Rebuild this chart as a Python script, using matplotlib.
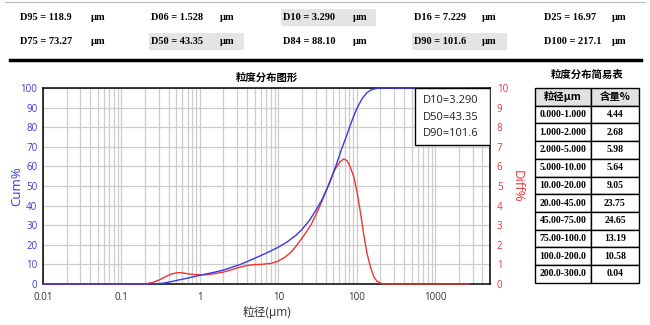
import numpy as np
import matplotlib
matplotlib.use("Agg")
import matplotlib.pyplot as plt
from matplotlib.patches import Rectangle
from matplotlib.ticker import LogLocator, FixedLocator

plt.rcParams['font.family'] = ['Open Sans', 'Noto Sans CJK SC', 'DejaVu Sans']

# summary percentiles shown in the header
d_names = ["D95", "D06", "D10", "D16", "D25", "D75", "D50", "D84", "D90", "D100"]
d_values = ["118.9", "1.528", "3.290", "7.229", "16.97", "73.27", "43.35", "88.10", "101.6", "217.1"]
d_marked = ["D10", "D50", "D90"]

# cumulative distribution (Cum%)
cum_x = [0.01, 0.28, 0.35, 0.42, 0.53, 0.7, 1.0, 1.528, 2.0, 3.29, 5.0, 7.229, 10.0, 13.0,
         16.97, 20.0, 25.0, 30.0, 36.0, 43.35, 45.0, 55.0, 65.0, 73.27, 75.0, 88.1, 100.0,
         101.6, 118.9, 135.0, 150.0, 175.0, 200.0, 217.1, 2700.0]
cum_y = [0, 0, 0.5, 1.1, 2.0, 3.0, 4.44, 6.0, 7.12, 10.0, 13.1, 16.0, 18.74, 21.5,
         25.0, 27.79, 32.5, 37.5, 43.0, 50.0, 51.54, 61.0, 69.5, 75.0, 76.19, 84.0, 89.38,
         90.0, 95.0, 97.6, 98.9, 99.7, 99.96, 100.0, 100.0]

# differential distribution (Diff%)
diff_x = [0.01, 0.2, 0.25, 0.3, 0.35, 0.4, 0.45, 0.53, 0.6, 0.7, 0.85, 1.0, 1.2, 1.5, 2.0,
          2.5, 3.0, 4.0, 5.0, 6.0, 8.0, 9.7, 12.0, 14.3, 17.0, 21.0, 26.0, 32.0, 38.0, 45.0,
          52.0, 60.0, 68.0, 75.0, 82.0, 92.0, 102.0, 112.0, 123.0, 135.0, 150.0, 165.0,
          180.0, 200.0, 222.0, 2700.0]
diff_y = [0, 0, 0.08, 0.2, 0.33, 0.45, 0.53, 0.58, 0.57, 0.52, 0.48, 0.47, 0.47, 0.52, 0.61,
          0.72, 0.82, 0.95, 0.99, 1.0, 1.05, 1.15, 1.35, 1.6, 1.95, 2.45, 3.0, 3.75, 4.45, 5.2,
          5.8, 6.2, 6.38, 6.3, 6.0, 5.45, 4.6, 3.6, 2.5, 1.57, 0.85, 0.37,
          0.15, 0.05, 0, 0]

# simple table: size range vs content
tbl_ranges = ["0.000-1.000", "1.000-2.000", "2.000-5.000", "5.000-10.00", "10.00-20.00",
              "20.00-45.00", "45.00-75.00", "75.00-100.0", "100.0-200.0", "200.0-300.0"]
tbl_content = ["4.44", "2.68", "5.98", "5.64", "9.05", "23.75", "24.65", "13.19", "10.58", "0.04"]

BLUE = "#3a3ae0"
RED = "#ee3535"
serif_bold = dict(family=["Liberation Serif", "Noto Sans CJK SC"], weight="bold", size=7.5)

fig = plt.figure(figsize=(6.5, 3.25), dpi=100)
W, H = 650.0, 325.0

def fx(px):
    return px / W

def fy(py):
    return 1 - py / H

# header with percentile values
fig.add_artist(plt.Line2D([fx(5), fx(645)], [fy(1.5), fy(1.5)], color="#bbbbbb", lw=0.8))
col_x = [20, 151, 283, 414, 544]
unit_x = [91, 220, 353, 482, 612]
row_y = [17, 41]
for i, (nm, val) in enumerate(zip(d_names, d_values)):
    r, c = divmod(i, 5)
    if nm in d_marked:
        fig.add_artist(Rectangle((fx(col_x[c] - 2), fy(row_y[r] + 8.5)), fx(95), 17 / H,
                                 facecolor="#e4e4e4", edgecolor="none"))
    fig.text(fx(col_x[c]), fy(row_y[r]), f"{nm} = {val}", ha="left", va="center", **serif_bold)
    fig.text(fx(unit_x[c]), fy(row_y[r]), "μm", ha="left", va="center", **serif_bold)
fig.add_artist(plt.Line2D([fx(10), fx(641)], [fy(60), fy(60)], color="black", lw=2.5))

# main chart
ax = fig.add_axes([fx(43), fy(284), fx(490) - fx(43), (284 - 88) / H])
ax.set_xscale("log")
ax.set_xlim(0.01, 5000)
ax.set_ylim(0, 100)
ax.set_yticks(np.arange(0, 101, 10))
ax.xaxis.set_major_locator(FixedLocator([0.01, 0.1, 1, 10, 100, 1000]))
ax.xaxis.set_minor_locator(LogLocator(base=10, subs=np.arange(2, 10), numticks=20))
ax.set_xticklabels(["0.01", "0.1", "1", "10", "100", "1000"])
ax.grid(True, which="both", axis="x", color="#cccccc", lw=0.9)
ax.grid(True, which="major", axis="y", color="#cccccc", lw=0.9)
ax.set_axisbelow(True)
ax.tick_params(axis="both", which="both", length=0)
ax.tick_params(axis="x", labelsize=7, colors="#333333", pad=6)
ax.tick_params(axis="y", labelsize=7, colors=BLUE, pad=4)
for s in ax.spines.values():
    s.set_color("black")
    s.set_linewidth(1.1)

ax2 = ax.twinx()
ax2.set_ylim(0, 10)
ax2.set_yticks(np.arange(0, 11, 1))
ax2.tick_params(axis="y", length=0, labelsize=7, colors=RED, pad=5)
ax2.plot(diff_x, diff_y, color=RED, lw=1.0, clip_on=False)
ax2.set_zorder(ax.get_zorder() + 1)
ax2.patch.set_visible(False)
for s in ax2.spines.values():
    s.set_visible(False)

# blue curve on top of the red one
ax3 = ax.twinx()
ax3.set_ylim(0, 100)
ax3.set_yticks([])
ax3.plot(cum_x, cum_y, color=BLUE, lw=1.0, clip_on=False)
ax3.set_zorder(ax2.get_zorder() + 1)
ax3.patch.set_visible(False)
for s in ax3.spines.values():
    s.set_visible(False)

ax.set_title("粒度分布图形", fontsize=7.5, fontweight="bold",
             family=["Noto Sans CJK SC"], pad=5)
ax.set_xlabel("粒径(μm)", fontsize=8.5, color="#333333", labelpad=2)
fig.text(fx(17), fy(186), "Cum%", color=BLUE, fontsize=9.5, rotation=90, ha="center", va="center")
fig.text(fx(517), fy(186), "Diff%", color=RED, fontsize=9.5, rotation=270, ha="center", va="center")

# D10/D50/D90 box pinned to the top-right corner
ax3.add_patch(Rectangle((0.832, 0.709), 0.168, 0.291, transform=ax3.transAxes,
                        facecolor="white", edgecolor="black", lw=1.0, zorder=5))
for k, line in enumerate(["D10=3.290", "D50=43.35", "D90=101.6"]):
    ax3.text(0.85, 0.934 - k * 0.082, line, transform=ax3.transAxes, ha="left", va="center",
             fontsize=8, color="#222222", zorder=6)

# summary table on the right
fig.text(fx(587), fy(75), "粒度分布简易表", ha="center", va="center", fontsize=7.5,
         fontweight="bold", family=["Noto Sans CJK SC"])
t_left, t_mid, t_right = 535, 591, 639
t_top, row_h = 88, 17.7
rows = [("粒径μm", "含量%")] + list(zip(tbl_ranges, tbl_content))
for i, (a, b) in enumerate(rows):
    y0 = t_top + i * row_h
    bg = "#e2e2e2" if i == 0 else "white"
    for (l, r), txt in zip([(t_left, t_mid), (t_mid, t_right)], [a, b]):
        fig.add_artist(Rectangle((fx(l), fy(y0 + row_h)), (r - l) / W, row_h / H,
                                 facecolor=bg, edgecolor="black", lw=1.0))
        if i == 0:
            fig.text(fx((l + r) / 2), fy(y0 + row_h / 2), txt, ha="center", va="center",
                     fontsize=7.5, fontweight="bold", family=["Noto Sans CJK SC", "DejaVu Sans"])
        else:
            fig.text(fx((l + r) / 2), fy(y0 + row_h / 2), txt, ha="center", va="center",
                     **dict(serif_bold, size=7))

fig.savefig("out.png", dpi=100)
